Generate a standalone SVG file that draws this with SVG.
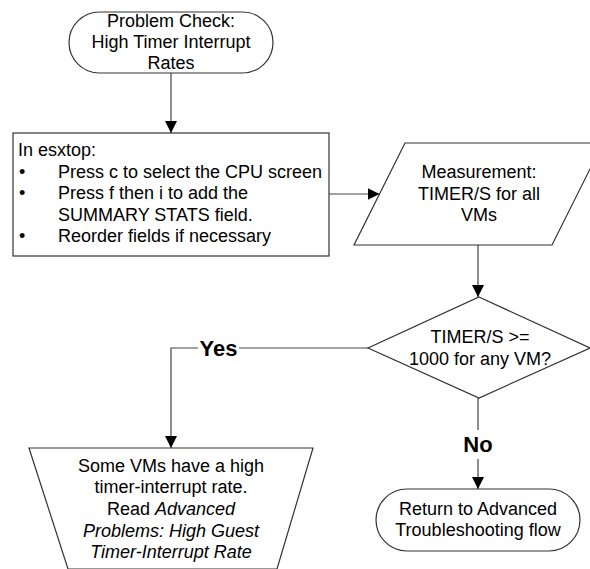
<svg xmlns="http://www.w3.org/2000/svg" width="590" height="569" viewBox="0 0 590 569">
  <style>
    .shape { fill: #ffffff; stroke: #333333; stroke-width: 1.2; }
    .line { fill: none; stroke: #444444; stroke-width: 1.2; }
    text { font-family: "Liberation Sans", Arial, sans-serif; font-size: 18px; fill: #000000; }
    .c { text-anchor: middle; }
    .lbl { font-weight: bold; font-size: 22px; text-anchor: middle; }
  </style>
  <defs>
    <marker id="arrow" viewBox="0 0 12 12" refX="12" refY="6" markerWidth="12" markerHeight="12" markerUnits="userSpaceOnUse" orient="auto">
      <path d="M0,0 L12,6 L0,12 Z" fill="#000000"/>
    </marker>
  </defs>
  <rect width="590" height="569" fill="#ffffff"/>

  <g id="connectors">
    <path class="line" d="M171,73 L171,133" marker-end="url(#arrow)"/>
    <path class="line" d="M329,194 L379.5,194" marker-end="url(#arrow)"/>
    <path class="line" d="M478,245 L478,297" marker-end="url(#arrow)"/>
    <path class="line" d="M368,348 L239,348 M198,348 L171,348 L171,448" marker-end="url(#arrow)"/>
    <path class="line" d="M478,398 L478,430 M478,459 L478,489" marker-end="url(#arrow)"/>
    <text class="lbl" x="218.5" y="356">Yes</text>
    <text class="lbl" x="478" y="452">No</text>
  </g>

  <g id="start">
    <rect class="shape" x="69" y="12" width="204" height="61" rx="30.5" ry="30.5"/>
    <text class="c" x="171" y="27">Problem Check:</text>
    <text class="c" x="171" y="48">High Timer Interrupt</text>
    <text class="c" x="171" y="69">Rates</text>
  </g>

  <g id="esxtop-steps">
    <rect class="shape" x="13" y="133" width="316" height="123"/>
    <text x="18" y="156">In esxtop:</text>
    <text x="19" y="177.5">•</text>
    <text x="58" y="177.5">Press c to select the CPU screen</text>
    <text x="19" y="199">•</text>
    <text x="58" y="199">Press f then i to add the</text>
    <text x="58" y="220.5">SUMMARY STATS field.</text>
    <text x="19" y="242">•</text>
    <text x="58" y="242">Reorder fields if necessary</text>
  </g>

  <g id="measurement">
    <polygon class="shape" points="405,143 603,143 552,245 354,245"/>
    <text class="c" x="479" y="178">Measurement:</text>
    <text class="c" x="479" y="200">TIMER/S for all</text>
    <text class="c" x="479" y="221">VMs</text>
  </g>

  <g id="decision">
    <polygon class="shape" points="479,297 590,348 479,398 368,348"/>
    <text class="c" x="480" y="343">TIMER/S &gt;=</text>
    <text class="c" x="480" y="365">1000 for any VM?</text>
  </g>

  <g id="high-rate">
    <polygon class="shape" points="29,448 313,448 277,569 68,569"/>
    <text class="c" x="171" y="472">Some VMs have a high</text>
    <text class="c" x="171" y="493">timer-interrupt rate.</text>
    <text class="c" x="171" y="515">Read <tspan font-style="italic">Advanced</tspan></text>
    <text class="c" x="171" y="537" font-style="italic">Problems: High Guest</text>
    <text class="c" x="171" y="558" font-style="italic">Timer-Interrupt Rate</text>
  </g>

  <g id="return">
    <rect class="shape" x="376" y="489" width="204" height="62" rx="31" ry="31"/>
    <text class="c" x="478" y="515">Return to Advanced</text>
    <text class="c" x="478" y="536">Troubleshooting flow</text>
  </g>
</svg>
